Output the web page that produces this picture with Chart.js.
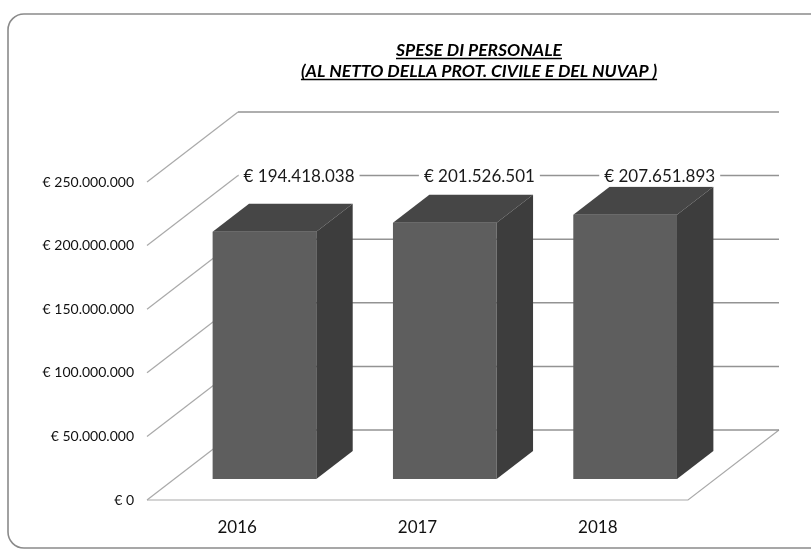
<!DOCTYPE html>
<html>
<head>
<meta charset="utf-8">
<script src="https://cdn.jsdelivr.net/npm/chart.js@4.4.1/dist/chart.umd.min.js"></script>
<style>
  html, body { margin: 0; padding: 0; background: #fff; }
  #wrap { width: 811px; height: 552px; }
</style>
</head>
<body>
<div id="wrap"><canvas id="spese-chart" width="811" height="552"></canvas></div>
<script>
// data
const YEARS = ['2016', '2017', '2018'];
const SPESE = [194418038, 201526501, 207651893];
const Y_TICKS = [0, 50000000, 100000000, 150000000, 200000000, 250000000];
const TITLE_LINES = ['SPESE DI PERSONALE', '(AL NETTO DELLA PROT. CIVILE E DEL NUVAP )'];

// 3d look
const DX = 91, DY = -70;          // depth of the floor
const FRONT = 0.3, BACK = 0.7;    // where the boxes sit inside the depth
const LABEL_LEVEL = 200000000;    // value labels sit on this back gridline

function euro(v) {
    return '€ ' + String(Math.round(v)).replace(/\B(?=(\d{3})+(?!\d))/g, '.');
}

function line(ctx, x1, y1, x2, y2) {
    ctx.beginPath();
    ctx.moveTo(x1, y1);
    ctx.lineTo(x2, y2);
    ctx.stroke();
}

const box3d = {
    id: 'box3d',
    beforeDraw(chart) {
        const ctx = chart.ctx;
        ctx.save();
        ctx.fillStyle = '#fff';
        ctx.fillRect(0, 0, chart.width, chart.height);
        ctx.strokeStyle = '#8a8a8a';
        ctx.lineWidth = 1.6;
        ctx.beginPath();
        ctx.roundRect(8, 14, 820, 534, 16);
        ctx.stroke();
        ctx.restore();
    },
    beforeDatasetsDraw(chart) {
        const { ctx, chartArea: a, scales: { y } } = chart;
        ctx.save();
        // side wall + floor
        ctx.strokeStyle = '#a9a9a9';
        ctx.lineWidth = 1.2;
        y.ticks.forEach(t => {
            const py = y.getPixelForValue(t.value);
            line(ctx, a.left, py, a.left + DX, py + DY);
        });
        ctx.beginPath();
        ctx.moveTo(a.left, a.bottom);
        ctx.lineTo(a.right, a.bottom);
        ctx.lineTo(a.right + DX, a.bottom + DY);
        ctx.stroke();
        // back wall gridlines
        ctx.strokeStyle = '#939393';
        ctx.lineWidth = 1.5;
        y.ticks.forEach(t => {
            const py = y.getPixelForValue(t.value) + DY;
            line(ctx, a.left + DX, py, a.right + DX, py);
        });
        ctx.restore();
        // front faces are drawn by chart.js, pushed into the depth
        ctx.save();
        ctx.translate(DX * FRONT, DY * FRONT);
    },
    afterDatasetsDraw(chart) {
        const { ctx, scales: { y } } = chart;
        ctx.restore();
        const fx = DX * FRONT, fy = DY * FRONT, bx = DX * BACK, by = DY * BACK;
        const meta = chart.getDatasetMeta(0);
        ctx.save();
        meta.data.forEach(el => {
            const p = el.getProps(['x', 'y', 'base', 'width'], true);
            const l = p.x - p.width / 2, r = p.x + p.width / 2;
            // top
            ctx.fillStyle = '#464646';
            ctx.beginPath();
            ctx.moveTo(l + fx, p.y + fy);
            ctx.lineTo(r + fx, p.y + fy);
            ctx.lineTo(r + bx, p.y + by);
            ctx.lineTo(l + bx, p.y + by);
            ctx.closePath();
            ctx.fill();
            // side
            ctx.fillStyle = '#3d3d3d';
            ctx.beginPath();
            ctx.moveTo(r + fx, p.y + fy);
            ctx.lineTo(r + bx, p.y + by);
            ctx.lineTo(r + bx, p.base + by);
            ctx.lineTo(r + fx, p.base + fy);
            ctx.closePath();
            ctx.fill();
        });
        // value labels
        ctx.font = '17px Lato';
        ctx.textAlign = 'center';
        ctx.textBaseline = 'middle';
        const ly = y.getPixelForValue(LABEL_LEVEL) + DY + 1;
        meta.data.forEach((el, i) => {
            const txt = euro(SPESE[i]);
            const cx = el.x + DX * 0.68;
            const w = ctx.measureText(txt).width + 10;
            ctx.fillStyle = '#fff';
            ctx.fillRect(cx - w / 2, ly - 10, w, 20);
            ctx.fillStyle = '#1a1a1a';
            ctx.fillText(txt, cx, ly);
        });
        ctx.restore();
    },
    afterDraw(chart) {
        const ctx = chart.ctx;
        ctx.save();
        ctx.font = 'italic bold 17.5px Lato';
        ctx.fillStyle = '#000';
        ctx.strokeStyle = '#000';
        ctx.lineWidth = 1.5;
        ctx.textAlign = 'center';
        ctx.textBaseline = 'alphabetic';
        const cx = 479;
        TITLE_LINES.forEach((txt, i) => {
            const base = 56 + i * 21;
            ctx.fillText(txt, cx, base);
            const w = ctx.measureText(txt).width;
            line(ctx, cx - w / 2, base + 2.5, cx + w / 2, base + 2.5);
        });
        ctx.restore();
    }
};

const ctx = document.getElementById('spese-chart').getContext('2d');
const chart = new Chart(ctx, {
    type: 'bar',
    data: {
        labels: YEARS,
        datasets: [{
            label: 'Spese di personale',
            data: SPESE,
            backgroundColor: '#5e5e5e',
            borderWidth: 0,
            barPercentage: 0.575,
            categoryPercentage: 1.0,
            clip: false
        }]
    },
    options: {
        responsive: false,
        animation: false,
        layout: {
            padding: { top: 182, right: 123, bottom: 0, left: 0 }
        },
        plugins: {
            legend: { display: false },
            tooltip: { enabled: false },
            title: { display: false }
        },
        scales: {
            x: {
                grid: { display: false, drawTicks: false },
                border: { display: false },
                ticks: {
                    padding: 17,
                    color: '#111',
                    font: { family: 'Lato', size: 17 }
                },
                afterFit: function (s) {
                    s.height = 52;
                    s.paddingLeft = 0;
                    s.paddingRight = 0;
                }
            },
            y: {
                min: 0,
                max: 250000000,
                grid: { display: false, drawTicks: false },
                border: { display: false },
                afterBuildTicks: function (s) {
                    s.ticks = Y_TICKS.map(v => ({ value: v }));
                },
                ticks: {
                    padding: 13,
                    color: '#111',
                    font: { family: 'Lato', size: 14 },
                    callback: function (v) { return euro(v); }
                },
                afterFit: function (s) {
                    s.width = 147;
                    s.paddingTop = 0;
                    s.paddingBottom = 0;
                }
            }
        }
    },
    plugins: [box3d]
});
</script>
</body>
</html>
